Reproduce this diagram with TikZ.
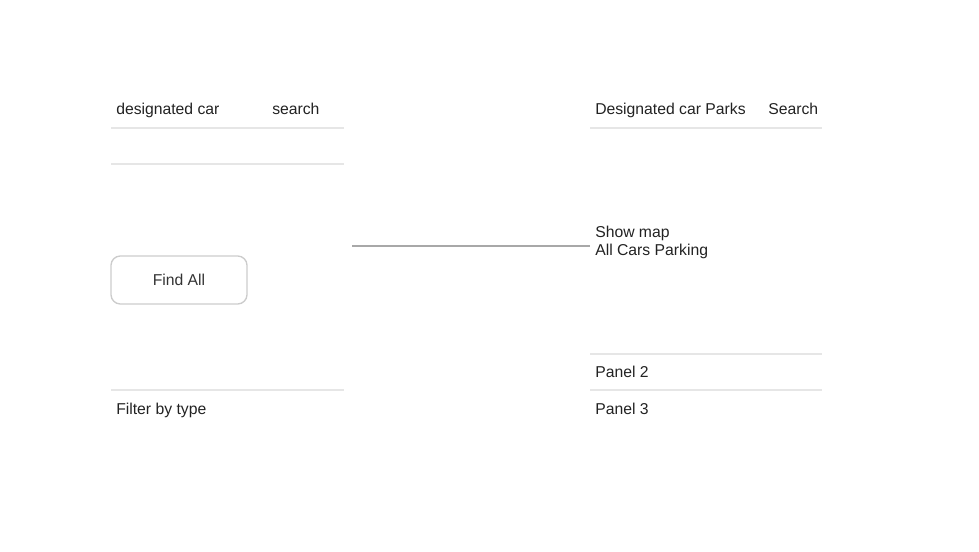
\documentclass[tikz,border=0pt]{standalone}
\usepackage{fontspec}
\setmainfont{Liberation Sans}
\usetikzlibrary{positioning}
\definecolor{rulegray}{HTML}{E6E6E6}
\definecolor{linkgray}{HTML}{A8A8A8}
\definecolor{btngray}{HTML}{CCCCCC}
\definecolor{inkgray}{HTML}{222222}
\tikzset{label/.style={anchor=base west, inner sep=0pt, text=inkgray, font=\fontsize{11.8}{13.5}\selectfont},
rule/.style={draw=rulegray, line width=1.5pt},
%button with rounded border
findbtn/.style={draw=btngray, line width=1pt, rounded corners=7pt, minimum width=102pt, minimum height=36pt, text=black!80, font=\fontsize{11.8}{13.5}\selectfont}}
\begin{document}
\begin{tikzpicture}[x=0.75pt, y=-0.75pt]

\useasboundingbox (0,0) rectangle (979,552);

% left panel
\coordinate (L0) at (111,128);
\coordinate (L1) at (344,128);
\coordinate (L2) at (111,164);
\coordinate (L3) at (344,164);
\coordinate (L4) at (111,390);
\coordinate (L5) at (344,390);

% right panel
\coordinate (R0) at (590,128);
\coordinate (R1) at (822,128);
\coordinate (R2) at (590,354);
\coordinate (R3) at (822,354);
\coordinate (R4) at (590,390);
\coordinate (R5) at (822,390);

\foreach \a/\b in {L0/L1,L2/L3,L4/L5,R0/R1,R2/R3,R4/R5}
    \draw[rule] (\a) -- (\b);

\node[label] (designated) at (116,114.5) {designated car};
\node[label] (search) at (272,114.5) {search};
\node[findbtn] (findall) at (179,280) {Find All};
\node[label] (filter) at (116,414.5) {Filter by type};

\node[label] (parks) at (595,114.5) {Designated car Parks};
\node[label] (Search) at (768,114.5) {Search};
\node[label] (showmap) at (595,237.5) {Show map};
\node[label] (allcars) at (595,255.5) {All Cars Parking};
\node[label] (panel2) at (595,377.5) {Panel 2};
\node[label] (panel3) at (595,414.5) {Panel 3};

\coordinate (link) at (352,246);
\draw[draw=linkgray, line width=1.5pt] (link) -- (link -| R2);

\end{tikzpicture}
\end{document}
